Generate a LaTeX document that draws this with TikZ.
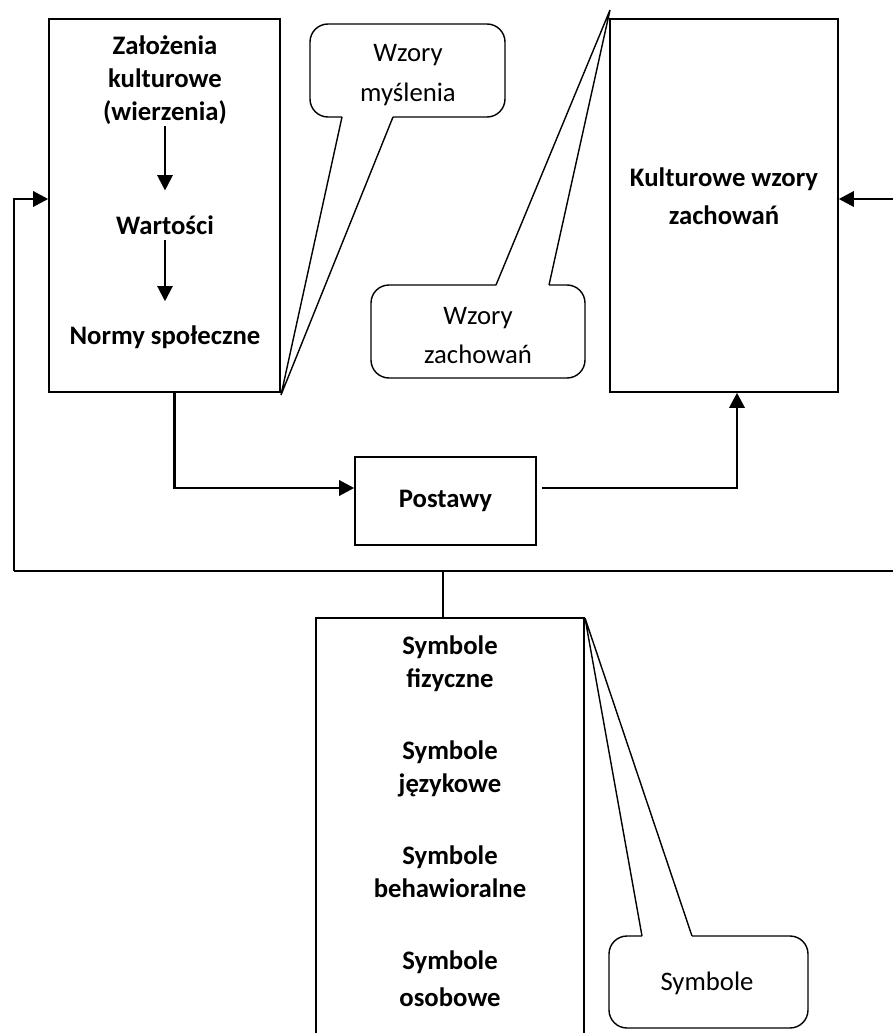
\documentclass[tikz,border=0pt]{standalone}
\usepackage{fontspec}
\setmainfont{Carlito}
\usetikzlibrary{arrows.meta, positioning, calc}

\begin{document}
\begin{tikzpicture}[>=latex, x=0.025cm, y=-0.025cm,
    box/.style={draw, line width=1pt, inner sep=0pt},
    lbl/.style={font=\bfseries\fontsize{19}{23.5}\selectfont, align=center, inner sep=0pt},
    note/.style={font=\fontsize{19}{28}\selectfont, align=center, inner sep=0pt},
    conn/.style={line width=2.1pt},
    arr/.style={-{Triangle[length=0.38cm, width=0.38cm]}},
    bubble/.style={line width=1pt, rounded corners=0.45cm}]

    \useasboundingbox (0,0) rectangle (893,1033);
    \clip (0,0) rectangle (893,1033);

    % boxes
    \node[box, minimum width=5.775cm, minimum height=9.325cm] (lbox) at (164.5,205.5) {};
    \node[box, minimum width=5.7cm, minimum height=9.325cm] (kzw) at (724,205.5) {};
    \node[box, minimum width=4.525cm, minimum height=2.2cm, lbl] (post) at (445.5,501) {Postawy};
    \node[box, minimum width=6.7cm, minimum height=10.675cm] (sbox) at (450,831.5) {};

    % left box
    \node[lbl] (zal) at (165,80) {Założenia\\kulturowe\\(wierzenia)};
    \node[lbl] (wart) at (165,225) {Wartości};
    \node[lbl] (norm) at (165,337) {Normy społeczne};
    \draw[line width=1.5pt, arr, shorten <=1pt, shorten >=0.62cm] (zal) -- (wart);
    \draw[line width=1.5pt, arr, shorten <=0.12cm, shorten >=0.6cm] (wart) -- (norm);

    % right box
    \node[lbl, font=\bfseries\fontsize{19}{27}\selectfont] (kzwt) at (724,196) {Kulturowe wzory\\zachowań};

    % symbols
    \node[lbl] (sfiz) at (450,664) {Symbole\\fizyczne};
    \node[lbl] (sjez) at (450,768.5) {Symbole\\językowe};
    \node[lbl] (sbeh) at (450,871.5) {Symbole\\behawioralne};
    \node[lbl, font=\bfseries\fontsize{19}{26}\selectfont] (soso) at (450,978.5) {Symbole\\osobowe};

    % callouts
    \draw[bubble] (393,117) -- (505,117) -- (505,24) -- (310,24) -- (310,117) -- (342,117);
    \draw[line width=1pt] (342,117) -- (281,395) -- (393,117);
    \node[note] (mysl) at (408,75) {Wzory\\myślenia};

    \draw[bubble] (549,285) -- (585,285) -- (585,378) -- (371,378) -- (371,285) -- (496,285);
    \draw[line width=1pt] (496,285) -- (610,10) -- (549,285);
    \node[note] (zach) at (478,335.5) {Wzory\\zachowań};

    \draw[bubble] (692,936) -- (808,936) -- (808,1028) -- (609,1028) -- (609,936) -- (642,936);
    \draw[line width=1pt] (642,936) -- (585,618) -- (692,936);
    \node[note] (symb) at (707,983) {Symbole};

    % connectors
    \coordinate (fbl) at (14,571);
    \coordinate (fbr) at (900,571);
    \coordinate (rin) at (900,199);

    \draw[conn] (fbr) -- (fbl);
    \draw[conn, arr] (fbl) |- (lbox.west |- 0,199);
    \draw[conn, arr] (rin) -- (rin -| kzw.east);
    \draw[line width=1.5pt] (fbl -| 443,0) -- (sbox.north -| 443,0);
    \draw[conn, arr] ([xshift=0.26cm]lbox.south) |- ([yshift=0.325cm]post.west);
    \draw[conn, arr] ([xshift=0.12cm, yshift=0.325cm]post.east) -| ([xshift=0.325cm]kzw.south);

\end{tikzpicture}
\end{document}
